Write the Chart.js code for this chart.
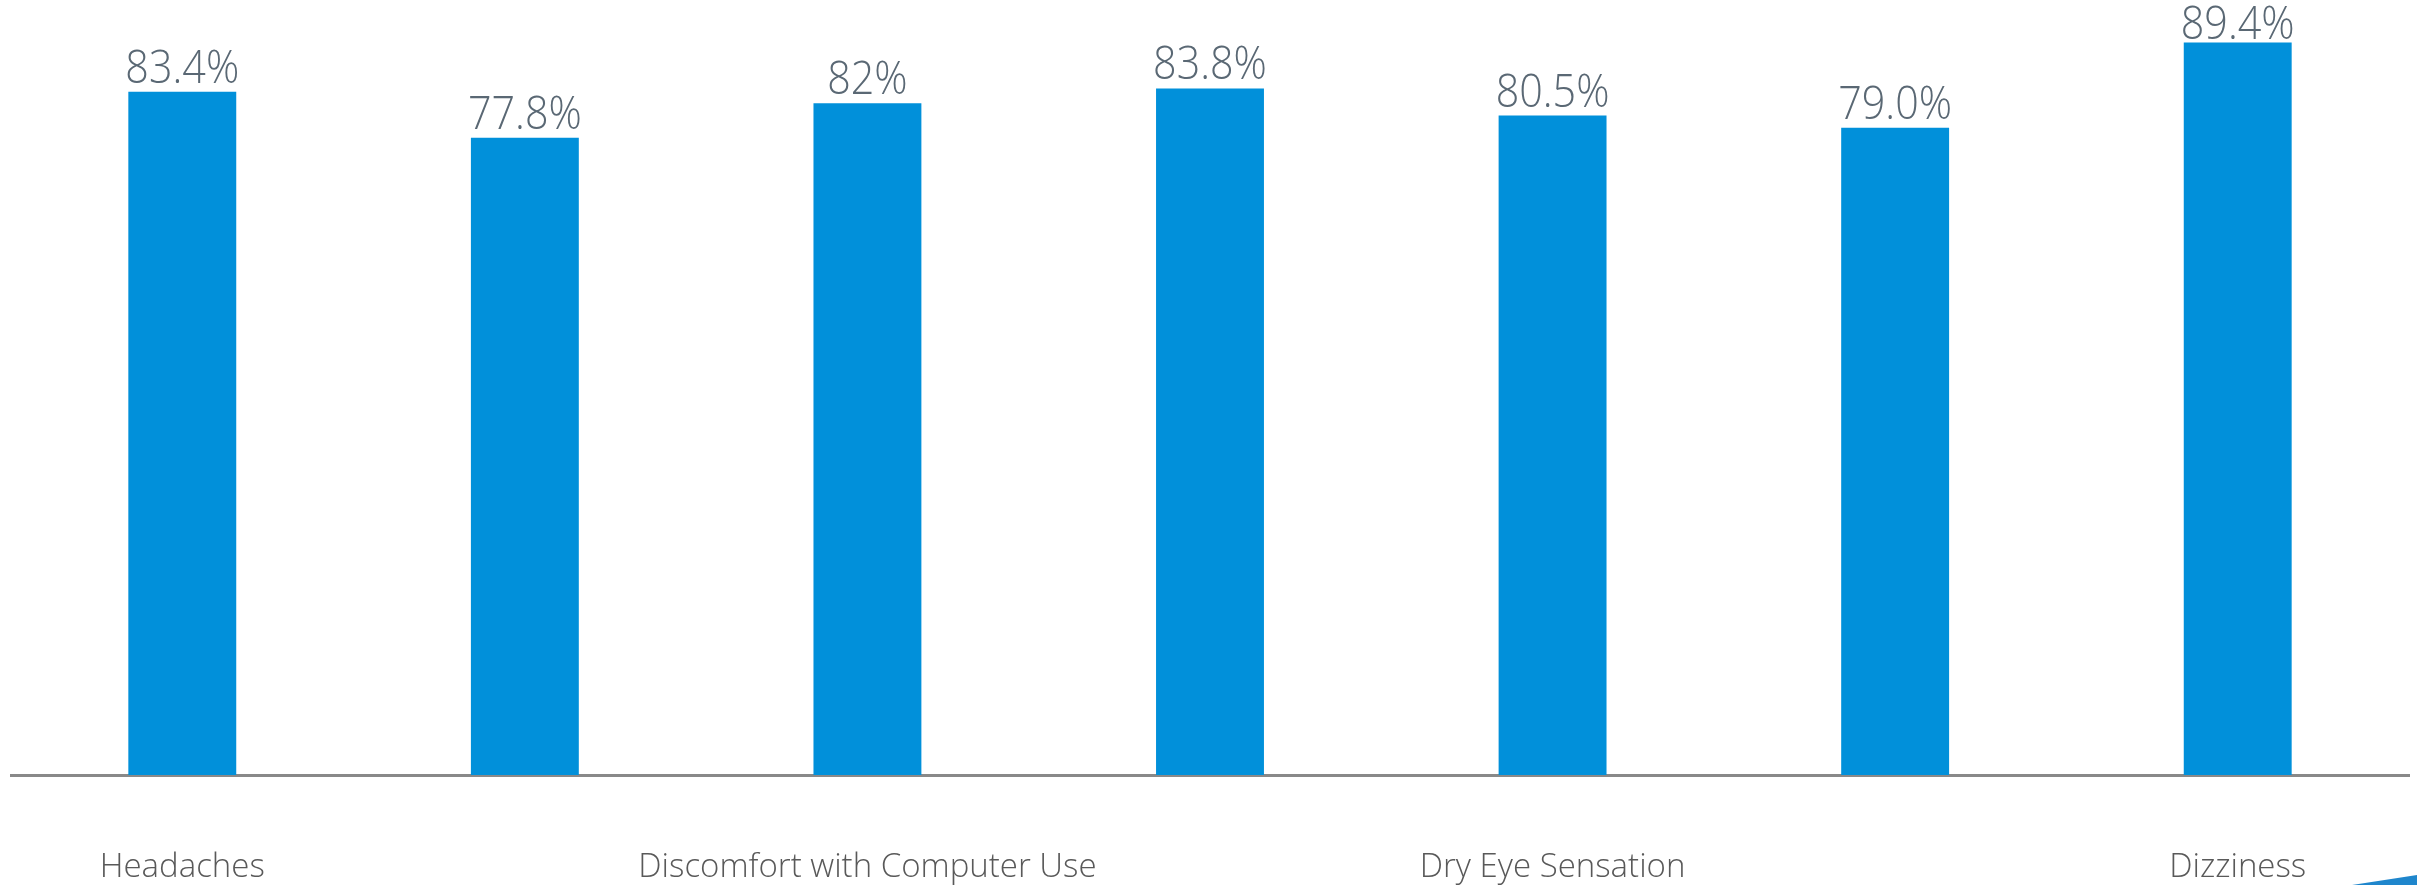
<!DOCTYPE html>
<html>
<head>
<meta charset="utf-8">
<script src="https://cdn.jsdelivr.net/npm/chart.js@4"></script>
<style>
  html, body { margin: 0; padding: 0; background: #ffffff; }
  #wrap { position: relative; width: 2417px; height: 885px; overflow: hidden; }
  #corner { position: absolute; left: 0; top: 0; width: 2417px; height: 885px; pointer-events: none;
            background: #1f86cc; clip-path: polygon(2352px 885px, 2417px 875px, 2417px 885px); }
</style>
</head>
<body>
<div id="wrap">
  <canvas id="c" width="2417" height="885"></canvas>
  <div id="corner"></div>
</div>
<script>
const categories = ["Headaches", "", "Discomfort with Computer Use", "", "Dry Eye Sensation", "", "Dizziness"];
const values = [83.4, 77.8, 82.0, 83.8, 80.5, 79.0, 89.4];
const valueLabels = ["83.4%", "77.8%", "82%", "83.8%", "80.5%", "79.0%", "89.4%"];
const yMin = 0;
const yMax = 94.6;

const labelPlugin = {
  id: 'valueLabels',
  afterDatasetsDraw(chart) {
    const ctx = chart.ctx;
    const meta = chart.getDatasetMeta(0);
    ctx.save();
    ctx.font = '300 43px "Open Sans", sans-serif';
    ctx.fillStyle = '#5a6874';
    ctx.textAlign = 'center';
    ctx.textBaseline = 'alphabetic';
    meta.data.forEach((bar, i) => {
      const y = Math.max(bar.y - 9, 39);
      ctx.save();
      ctx.translate(bar.x, y);
      ctx.scale(0.96, 1.08);
      ctx.fillText(valueLabels[i], 0, 0);
      ctx.restore();
    });
    ctx.restore();
  }
};

new Chart(document.getElementById('c'), {
  type: 'bar',
  data: {
    labels: categories,
    datasets: [{
      data: values,
      backgroundColor: '#0190da',
      borderWidth: 0,
      barPercentage: 0.315,
      categoryPercentage: 1.0
    }]
  },
  options: {
    responsive: false,
    animation: false,
    devicePixelRatio: 1,
    layout: { padding: { left: 11, right: 8, top: 0, bottom: 0 } },
    plugins: { legend: { display: false }, tooltip: { enabled: false } },
    scales: {
      x: {
        grid: { display: false, drawTicks: false },
        border: { display: true, color: '#898989', width: 3 },
        ticks: {
          autoSkip: false,
          maxRotation: 0,
          padding: 73,
          color: '#595959',
          font: { family: '"Open Sans", sans-serif', size: 33, weight: '300' }
        },
        afterFit(axis) { axis.height = 110; }
      },
      y: {
        display: false,
        min: yMin,
        max: yMax
      }
    }
  },
  plugins: [labelPlugin]
});
</script>
</body>
</html>
